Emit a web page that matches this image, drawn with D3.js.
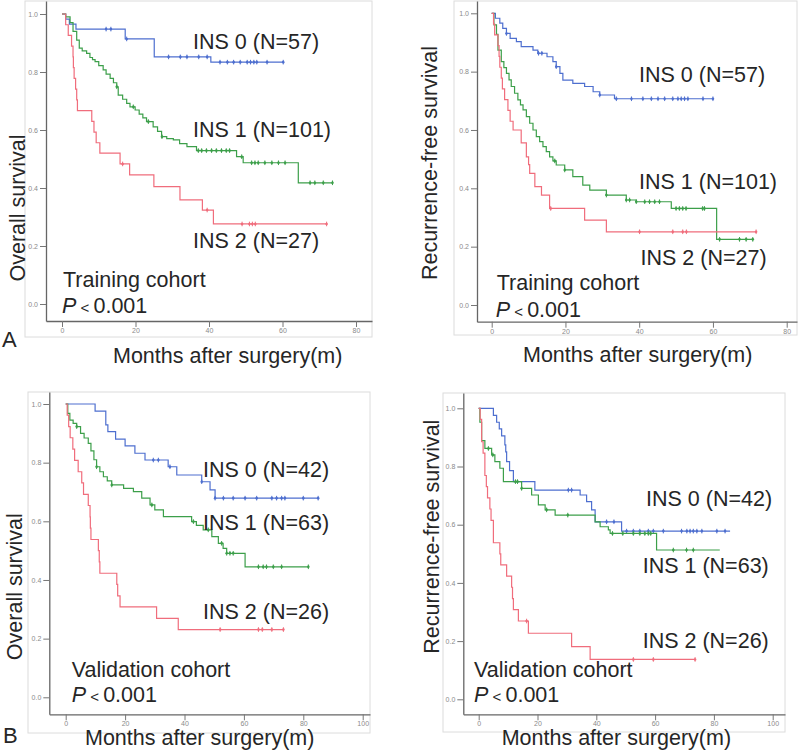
<!DOCTYPE html>
<html>
<head>
<meta charset="utf-8">
<script src="https://cdnjs.cloudflare.com/ajax/libs/d3/7.8.5/d3.min.js"></script>
<style>
  html, body { margin: 0; padding: 0; background: #ffffff; }
  svg { display: block; }
  text { font-family: "Liberation Sans", Arial, Helvetica, sans-serif; }
</style>
</head>
<body>
<svg id="chart" width="800" height="755"></svg>
<script>
// ---------------- DATA ----------------
const groupNames = ["INS 0", "INS 1", "INS 2"];
const yTickValues = [0, 0.2, 0.4, 0.6, 0.8, 1.0];
const xTicksTraining = [0, 20, 40, 60, 80];
const xTicksValidation = [0, 20, 40, 60, 80, 100];

// Panel A left: overall survival, training cohort
const osTrainN = [57, 101, 27];
const osTrainTime0 = [0, 1, 2, 3.8, 17.2, 25.1, 40.5, 60.2];
const osTrainSurv0 = [1, 0.982, 0.965, 0.948, 0.914, 0.852, 0.834, 0.834];
const osTrainCens0 = [12, 13.3, 17.6, 29, 32.2, 34, 37.2, 39.5, 43, 45, 46.7, 48.5, 50.4, 51.3, 52.2, 53, 55.8, 60.2];
const osTrainTime1 = [0, 1, 2.2, 3, 4, 4.7, 5.5, 6.7, 7.6, 8.3, 9, 10, 11.2, 12, 13.1, 14, 14.9, 15.3, 16.5, 17.6, 18.5, 19.9, 21, 22, 23, 24.8, 26, 27.1, 28.5, 30.3, 32, 34, 36.6, 47.5, 49.3, 64.3, 73.6];
const osTrainSurv1 = [1, 0.99, 0.97, 0.94, 0.91, 0.882, 0.873, 0.864, 0.85, 0.843, 0.836, 0.822, 0.807, 0.793, 0.778, 0.763, 0.749, 0.72, 0.706, 0.692, 0.68, 0.669, 0.655, 0.642, 0.629, 0.611, 0.595, 0.577, 0.57, 0.566, 0.553, 0.543, 0.529, 0.508, 0.487, 0.418, 0.418];
const osTrainCens1 = [14.9, 19.4, 23.5, 27.2, 37.1, 38, 39.3, 40.7, 42, 43.4, 44.7, 45.6, 48.9, 51.6, 52.5, 53.4, 55.2, 57.1, 58.9, 60.7, 67.5, 68.8, 71.1, 73.6];
const osTrainTime2 = [0, 1, 1.7, 2.6, 3, 3.1, 3.3, 3.7, 4, 4.2, 8.1, 8.7, 9.3, 10.3, 15.8, 18.4, 25, 32.1, 38.2, 41.2, 72];
const osTrainSurv2 = [1, 0.963, 0.926, 0.889, 0.852, 0.815, 0.778, 0.741, 0.704, 0.667, 0.63, 0.593, 0.556, 0.52, 0.483, 0.445, 0.405, 0.359, 0.324, 0.276, 0.276];
const osTrainCens2 = [16.5, 39.5, 49, 51, 51.8, 52.6, 72];

// Panel A right: recurrence-free survival, training cohort
const rfsTrainN = [57, 101, 27];
const rfsTrainTime0 = [0, 1, 2.2, 3, 4, 5, 6.7, 8, 11.2, 12.5, 15, 16.6, 17.5, 18.5, 19.3, 22, 25.2, 27.5, 29.3, 33.3, 60];
const rfsTrainSurv0 = [1, 0.983, 0.966, 0.948, 0.931, 0.914, 0.903, 0.886, 0.874, 0.863, 0.851, 0.834, 0.817, 0.794, 0.771, 0.76, 0.749, 0.731, 0.72, 0.707, 0.707];
const rfsTrainCens0 = [4, 12.7, 13.6, 17.5, 29.3, 33.8, 37.9, 41, 43.3, 45.1, 46.9, 49.1, 50.5, 51.4, 52.3, 53.2, 57.3, 60];
const rfsTrainTime1 = [0, 0.6, 1.3, 1.7, 2.6, 3.3, 4, 4.7, 5.3, 6.2, 7.1, 7.8, 8.5, 9.4, 10.3, 11.2, 12.1, 13, 13.9, 14.8, 15.7, 16.6, 17.5, 19.8, 22, 24.7, 26.6, 31.1, 36.5, 39.2, 48.7, 61, 70.8];
const rfsTrainSurv1 = [1, 0.96, 0.928, 0.874, 0.834, 0.814, 0.794, 0.772, 0.749, 0.726, 0.703, 0.686, 0.669, 0.646, 0.623, 0.6, 0.577, 0.56, 0.543, 0.526, 0.508, 0.494, 0.48, 0.463, 0.44, 0.411, 0.394, 0.377, 0.36, 0.354, 0.331, 0.225, 0.225];
const rfsTrainCens1 = [17.1, 19.8, 31.1, 36.5, 37.4, 39.2, 41.5, 42.8, 44.2, 45.5, 50, 50.9, 51.8, 52.7, 57.2, 57.7, 61.8, 67.2, 69, 70.8];
const rfsTrainTime2 = [0, 0.5, 0.8, 1.7, 2, 2.2, 2.6, 2.9, 3.5, 4.4, 5, 5.8, 8, 9.4, 10, 10.3, 11.7, 13.5, 15.7, 25.2, 31.1, 71.7];
const rfsTrainSurv2 = [1, 0.963, 0.926, 0.889, 0.852, 0.815, 0.778, 0.741, 0.704, 0.667, 0.63, 0.6, 0.556, 0.508, 0.481, 0.451, 0.406, 0.377, 0.331, 0.291, 0.251, 0.251];
const rfsTrainCens2 = [16, 40.1, 49.1, 51.8, 52.8, 71.7];

// Panel B left: overall survival, validation cohort
const osValN = [42, 63, 26];
const osValTime0 = [0, 9.9, 13.5, 14.2, 16.8, 20, 23.3, 26.7, 34.5, 37.4, 45.8, 48.6, 50.3, 85];
const osValSurv0 = [1, 0.976, 0.929, 0.906, 0.88, 0.857, 0.832, 0.809, 0.786, 0.758, 0.735, 0.707, 0.679, 0.679];
const osValCens0 = [29.5, 31.2, 35.1, 45.8, 50.3, 53.1, 56.4, 60.4, 64.3, 69.4, 71, 72.7, 73.8, 80, 85];
const osValTime1 = [0, 0.7, 1.4, 2.5, 3.7, 5, 6.2, 7.6, 8.5, 9.5, 10.4, 11.5, 12.7, 14, 15.5, 19.5, 22.8, 25.6, 28.4, 30, 32.9, 42.4, 44, 46.3, 49.2, 51.4, 53, 54.2, 60.4, 81.7];
const osValSurv1 = [1, 0.968, 0.945, 0.934, 0.923, 0.9, 0.884, 0.866, 0.84, 0.81, 0.786, 0.769, 0.752, 0.738, 0.724, 0.712, 0.701, 0.679, 0.656, 0.639, 0.616, 0.599, 0.586, 0.571, 0.548, 0.525, 0.508, 0.491, 0.445, 0.445];
const osValCens1 = [3.7, 10.4, 15.5, 29, 43, 48, 52.5, 54.2, 55.3, 56.4, 64.9, 66.5, 67.6, 69.9, 72.7, 81.7];
const osValTime2 = [0, 0.5, 1, 1.5, 2.4, 3, 4.2, 5.4, 6, 7.6, 8.2, 8.3, 8.5, 11, 11.3, 11.5, 17.2, 17.5, 18.3, 30.6, 37.9, 73.3];
const osValSurv2 = [1, 0.962, 0.923, 0.885, 0.846, 0.808, 0.769, 0.731, 0.692, 0.654, 0.615, 0.577, 0.538, 0.5, 0.462, 0.423, 0.385, 0.346, 0.308, 0.269, 0.231, 0.231];
const osValCens2 = [52, 64.9, 66.2, 69.4, 73.3];

// Panel B right: recurrence-free survival, validation cohort
const rfsValN = [42, 63, 26];
const rfsValTime0 = [0, 5, 6.1, 7, 7.8, 8.9, 9.2, 9.5, 10.5, 11.8, 19.1, 34.5, 36.7, 38.4, 39.6, 48.6, 85.5];
const rfsValSurv0 = [1, 0.976, 0.952, 0.929, 0.905, 0.874, 0.85, 0.817, 0.786, 0.748, 0.719, 0.702, 0.679, 0.651, 0.61, 0.578, 0.578];
const rfsValCens0 = [30.5, 31.6, 43.5, 46, 50.3, 52.6, 54.8, 57.7, 59.4, 62.8, 69, 70.8, 71.9, 73, 74.2, 75.9, 81, 83.8];
const rfsValTime1 = [0, 0.4, 1, 2.1, 4.4, 5.5, 7.2, 8.4, 14.6, 18, 20.3, 22.6, 26, 39.6, 41.3, 44.1, 44.7, 60.5, 82];
const rfsValSurv1 = [1, 0.952, 0.889, 0.862, 0.84, 0.817, 0.794, 0.748, 0.725, 0.702, 0.668, 0.651, 0.633, 0.61, 0.593, 0.582, 0.57, 0.513, 0.513];
const rfsValCens1 = [3.3, 4.8, 12.5, 13.2, 14.6, 23.1, 30.3, 45.5, 49, 52.6, 54.8, 56.5, 57.7, 58.5, 66.2, 70.7, 73];
const rfsValTime2 = [0, 0.5, 1, 1.5, 2.1, 2.6, 3, 3.8, 4.2, 5, 7.2, 7.5, 9.5, 11.2, 11.5, 11.8, 13.5, 16.9, 31.6, 37.9, 73.6];
const rfsValSurv2 = [1, 0.962, 0.885, 0.846, 0.769, 0.731, 0.692, 0.654, 0.615, 0.538, 0.5, 0.462, 0.423, 0.385, 0.346, 0.308, 0.269, 0.227, 0.181, 0.137, 0.137];
const rfsValCens2 = [16.3, 52.6, 59.4, 73.6];

// ---------------- STYLE / LAYOUT ----------------
const colors = ["#4e6fcf", "#3c9f4a", "#f06d7c"];
const svg = d3.select("#chart");

const panels = [
  { frame: [25, 1, 372, 337], xAxisY: 321, yAxisX: 46, xRef: [62, 356], xRefVal: [0, 80], yRef: [304, 14],
    xTicks: xTicksTraining, yLabel: "Overall survival", yLabelX: 25, yLabelY: 208,
    times: [osTrainTime0, osTrainTime1, osTrainTime2], surv: [osTrainSurv0, osTrainSurv1, osTrainSurv2],
    cens: [osTrainCens0, osTrainCens1, osTrainCens2], n: osTrainN,
    labelPos: [[193, 49], [193, 136.5], [193, 248]], cohort: "Training cohort", cohortPos: [63, 287], pPos: [62, 313],
    xTitlePos: [113, 363], letter: "A", letterPos: [2, 347] },
  { frame: [454, 1, 797, 335], xAxisY: 321.7, yAxisX: 477, xRef: [491.7, 786.7], xRefVal: [0, 80], yRef: [305, 13.3],
    xTicks: xTicksTraining, yLabel: "Recurrence-free survival", yLabelX: 437, yLabelY: 163,
    times: [rfsTrainTime0, rfsTrainTime1, rfsTrainTime2], surv: [rfsTrainSurv0, rfsTrainSurv1, rfsTrainSurv2],
    cens: [rfsTrainCens0, rfsTrainCens1, rfsTrainCens2], n: rfsTrainN,
    labelPos: [[639, 81.5], [639, 189], [640.5, 265]], cohort: "Training cohort", cohortPos: [496.7, 290], pPos: [495.7, 316.5],
    xTitlePos: [523, 361.5], letter: null },
  { frame: [28, 392, 370, 733], xAxisY: 714.3, yAxisX: 49.3, xRef: [65.7, 362.7], xRefVal: [0, 100], yRef: [697.3, 404],
    xTicks: xTicksValidation, yLabel: "Overall survival", yLabelX: 22, yLabelY: 586.7,
    times: [osValTime0, osValTime1, osValTime2], surv: [osValSurv0, osValSurv1, osValSurv2],
    cens: [osValCens0, osValCens1, osValCens2], n: osValN,
    labelPos: [[203, 476.5], [203, 530], [203, 619]], cohort: "Validation cohort", cohortPos: [71.7, 676.5], pPos: [71.7, 701.5],
    xTitlePos: [85, 745], letter: "B", letterPos: [3, 743] },
  { frame: [443, 393, 785, 732], xAxisY: 714.3, yAxisX: 463.3, xRef: [478.7, 772.7], xRefVal: [0, 100], yRef: [699.3, 408.3],
    xTicks: xTicksValidation, yLabel: "Recurrence-free survival", yLabelX: 439, yLabelY: 536.7,
    times: [rfsValTime0, rfsValTime1, rfsValTime2], surv: [rfsValSurv0, rfsValSurv1, rfsValSurv2],
    cens: [rfsValCens0, rfsValCens1, rfsValCens2], n: rfsValN,
    labelPos: [[646, 506], [642.7, 573.3], [642.7, 648.3]], cohort: "Validation cohort", cohortPos: [474, 676.5], pPos: [474, 701.5],
    xTitlePos: [501.7, 745], letter: null }
];

const textColor = "#262626";
const bigFont = 21.5;

panels.forEach(p => {
  const g = svg.append("g");
  const [fx0, fy0, fx1, fy1] = p.frame;

  // outer light frame
  g.append("rect").attr("x", fx0).attr("y", fy0).attr("width", fx1 - fx0).attr("height", fy1 - fy0)
    .attr("fill", "none").attr("stroke", "#dcdcdc").attr("stroke-width", 1);

  // base scales from reference points, then extended to axis extents
  const xBase = d3.scaleLinear().domain(p.xRefVal).range(p.xRef);
  const yBase = d3.scaleLinear().domain([0, 1]).range(p.yRef);
  const x = d3.scaleLinear().domain([xBase.invert(p.yAxisX), xBase.invert(fx1)]).range([p.yAxisX, fx1]);
  const y = d3.scaleLinear().domain([yBase.invert(p.xAxisY), yBase.invert(fy0)]).range([p.xAxisY, fy0]);

  // axes
  const yAxis = d3.axisLeft(y).tickValues(yTickValues).tickFormat(d3.format(".1f")).tickSize(6).tickSizeOuter(0).tickPadding(2);
  const xAxis = d3.axisBottom(x).tickValues(p.xTicks).tickFormat(d3.format("d")).tickSize(6).tickSizeOuter(0).tickPadding(1);
  const ya = g.append("g").attr("transform", `translate(${p.yAxisX},0)`).call(yAxis);
  const xa = g.append("g").attr("transform", `translate(0,${p.xAxisY})`).call(xAxis);
  [ya, xa].forEach(a => {
    a.select(".domain").attr("stroke", "#666").attr("stroke-width", 1.3);
    a.selectAll(".tick line").attr("stroke", "#777").attr("stroke-width", 1);
    a.selectAll(".tick text").attr("fill", "#8a8a8a").style("font-size", "7px");
  });

  // curves
  const line = d3.line().x(d => x(d[0])).y(d => y(d[1])).curve(d3.curveStepAfter);
  [0, 1, 2].forEach(k => {
    const pts = p.times[k].map((t, i) => [t, p.surv[k][i]]);
    g.append("path").datum(pts).attr("d", line)
      .attr("fill", "none").attr("stroke", colors[k]).attr("stroke-width", 1.2);
    // censor marks at survival value in effect at that time
    const stepVal = t => {
      let v = p.surv[k][0];
      for (let i = 0; i < p.times[k].length; i++) { if (p.times[k][i] <= t) v = p.surv[k][i]; }
      return v;
    };
    const cg = g.append("g").attr("stroke", colors[k]).attr("fill", colors[k]);
    p.cens[k].forEach(t => {
      const cx = x(t), cy = y(stepVal(t));
      cg.append("line").attr("x1", cx).attr("x2", cx).attr("y1", cy - 2.3).attr("y2", cy + 2.3).attr("stroke-width", 1);
      cg.append("circle").attr("cx", cx).attr("cy", cy).attr("r", 1.3).attr("stroke", "none");
    });
  });

  // group labels
  [0, 1, 2].forEach(k => {
    g.append("text").attr("x", p.labelPos[k][0]).attr("y", p.labelPos[k][1])
      .attr("fill", textColor).style("font-size", bigFont + "px")
      .text(`${groupNames[k]} (N=${p.n[k]})`);
  });

  // cohort and P value
  g.append("text").attr("x", p.cohortPos[0]).attr("y", p.cohortPos[1])
    .attr("fill", textColor).style("font-size", bigFont + "px").text(p.cohort);
  const pt = g.append("text").attr("x", p.pPos[0]).attr("y", p.pPos[1])
    .attr("fill", textColor).style("font-size", bigFont + "px");
  pt.append("tspan").style("font-style", "italic").text("P");
  pt.append("tspan").style("font-size", "15px").text(" < ");
  pt.append("tspan").text("0.001");

  // axis titles
  g.append("text").attr("x", p.xTitlePos[0]).attr("y", p.xTitlePos[1])
    .attr("fill", textColor).style("font-size", bigFont + "px").text("Months after surgery(m)");
  g.append("text").attr("transform", `translate(${p.yLabelX},${p.yLabelY}) rotate(-90)`)
    .attr("text-anchor", "middle").attr("fill", textColor).style("font-size", bigFont + "px").text(p.yLabel);

  if (p.letter) {
    g.append("text").attr("x", p.letterPos[0]).attr("y", p.letterPos[1])
      .attr("fill", textColor).style("font-size", "22px").text(p.letter);
  }
});
</script>
</body>
</html>
